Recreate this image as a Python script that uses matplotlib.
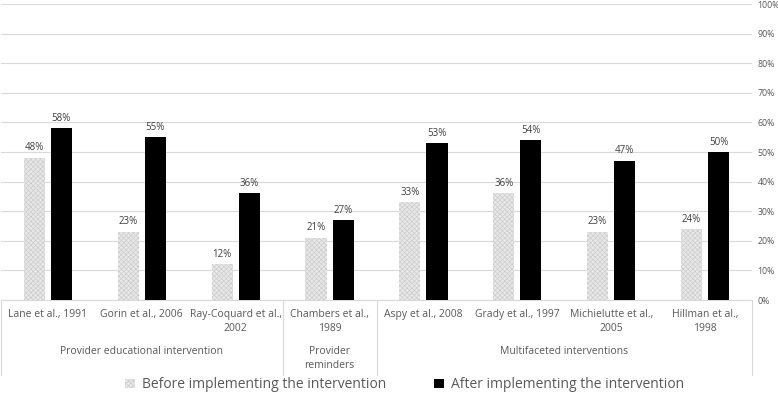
import matplotlib
matplotlib.use("Agg")
import matplotlib.pyplot as plt
import matplotlib.transforms as mtransforms
from matplotlib.patches import Patch
import numpy as np

plt.rcParams['font.family'] = ['Open Sans', 'DejaVu Sans']
plt.rcParams['hatch.linewidth'] = 0.5

studies = ["Lane et al., 1991", "Gorin et al., 2006", "Ray-Coquard et al.,\n2002",
           "Chambers et al.,\n1989", "Aspy et al., 2008", "Grady et al., 1997",
           "Michielutte et al.,\n2005", "Hillman et al.,\n1998"]
before = [48, 23, 12, 21, 33, 36, 23, 24]
after = [58, 55, 36, 27, 53, 54, 47, 50]
groups = ["Provider educational intervention", "Provider\nreminders", "Multifaceted interventions"]
group_sizes = [3, 1, 4]
yticks = list(range(0, 101, 10))

txt = '#595959'
fig = plt.figure(figsize=(7.78, 3.99), dpi=100)
ax = fig.add_axes([1 / 778, 1 - 300 / 399, 751 / 778, 296 / 399])

x = np.arange(len(studies))
w = 0.225
off = 0.144
ax.bar(x - off, before, w, color='#e8e8e8', edgecolor='#cdcdcd', hatch='xxxxxxx', linewidth=0, zorder=3)
ax.bar(x + off, after, w, color='black', zorder=3)
for xi, v in zip(x - off, before):
    ax.text(xi, v + 1.5, f"{v}%", ha='center', va='bottom', fontsize=7, color='#404040')
for xi, v in zip(x + off, after):
    ax.text(xi, v + 1.5, f"{v}%", ha='center', va='bottom', fontsize=7, color='#404040')

ax.set_xlim(-0.5, len(studies) - 0.5)
ax.set_ylim(0, 100)
ax.set_yticks(yticks)
ax.set_yticklabels([f"{t}%" for t in yticks], fontsize=6.3, color=txt)
ax.yaxis.tick_right()
ax.tick_params(axis='y', length=0, pad=4)
ax.set_xticks([])
for s in ax.spines.values():
    s.set_visible(False)
ax.grid(axis='y', color='#d9d9d9', linewidth=0.8, zorder=0)

trans = mtransforms.blended_transform_factory(ax.transData, ax.transAxes)
ax.plot([-0.5, len(studies) - 0.5], [0, 0], color='#d9d9d9', lw=0.8, transform=trans, clip_on=False)
for xi, lab in zip(x, studies):
    ax.text(xi, -0.03, lab, ha='center', va='top', fontsize=7.5, color=txt, transform=trans, linespacing=1.4)

edges = [-0.5]
start = 0
for g, n in zip(groups, group_sizes):
    center = start + (n - 1) / 2
    ax.text(center, -0.155, g, ha='center', va='top', fontsize=7.5, color=txt, transform=trans, linespacing=1.4)
    start += n
    edges.append(start - 0.5)
for e in edges:
    ax.plot([e, e], [0, -0.255], color='#d9d9d9', lw=0.8, transform=trans, clip_on=False)

handles = [Patch(facecolor='#e8e8e8', edgecolor='#cdcdcd', hatch='xxxxxxx', linewidth=0),
           Patch(facecolor='black')]
fig.legend(handles, ["Before implementing the intervention", "After implementing the intervention"],
           loc='lower center', bbox_to_anchor=(0.52, -0.015), ncol=2, frameon=False, fontsize=10,
           handlelength=0.7, handleheight=0.7, handletextpad=0.5, columnspacing=3.5, labelcolor=txt)

fig.savefig("out.png", dpi=100)
